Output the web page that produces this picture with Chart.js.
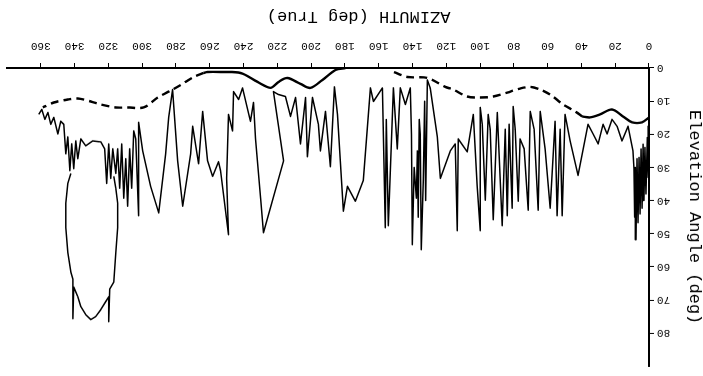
<!DOCTYPE html>
<html>
<head>
<meta charset="utf-8">
<script src="https://cdn.jsdelivr.net/npm/chart.js@4.4.1/dist/chart.umd.min.js"></script>
<style>
  html, body { margin: 0; padding: 0; background: #fff; overflow: hidden; }
  #wrap { width: 703px; height: 376px; transform: rotate(180deg); transform-origin: 50% 50%; }
</style>
</head>
<body>
<div id="wrap"><canvas id="c" width="703" height="376"></canvas></div>
<script>
// Tick labels
const azTicks = [0,20,40,60,80,100,120,140,160,180,200,220,240,260,280,300,320,340,360];
const elTicks = [0,10,20,30,40,50,60,70,80];

// Thin obstruction profile (azimuth deg, elevation deg), traced in drawing order
const profileAz = [0,0.5,1.0,1.8,2.4,3.0,3.5,4.1,4.7,5.3,5.9,6.5,7.1,7.7,8.1,8.5,8.9,9.5,12.4,16.0,18.9,21.9,24.8,27.2,30.1,33.1,36.1,42.0,46.7,49.7,51.4,52.6,54.4,55.6,58.5,61.5,64.4,65.6,68.0,70.3,71.5,73.9,76.3,77.4,79.2,80.4,81.0,82.8,83.9,85.1,86.9,89.8,92.2,94.0,95.2,96.9,98.7,99.9,99.9,101.7,104.0,107.6,112.9,113.5,114.7,117.6,123.5,125.3,129.5,131.2,132.2,132.8,133.6,134.8,135.4,136.0,136.6,137.1,137.7,139.0,140.1,140.6,141.3,144.2,147.2,149.0,151.3,154.3,155.5,156.1,157.8,163.1,164.9,169.1,173.8,178.5,180.9,184.4,186.2,188.6,191.5,194.5,195.7,199.2,202.2,203.3,206.3,209.2,212.2,215.2,219.3,222.3,216.3,228.2,229.9,232.9,234.1,235.9,240.6,242.9,245.9,246.5,248.9,250.0,248.9,253.6,254.8,258.3,261.3,264.2,266.6,270.1,271.3,276.0,279.0,282.0,284.3,286.1,290.2,295.0,299.7,302.1,302.1,303.8,305.0,306.2,307.4,308.6,309.7,310.9,312.1,313.3,314.5,315.6,317.4,318.6,319.8,321.0,322.2,324.5,329.2,333.4,336.3,338.1,339.3,340.5,341.7,342.8,344.0,345.2,346.4,348.2,349.9,352.3,354.1,355.8,357.6,359.4,361.2];
const profileEl = [17.6,33.0,21.0,38.0,24.0,40.0,23.0,42.3,24.4,44.0,27.0,46.7,27.4,51.8,30.0,45.0,30.4,25.0,17.6,22.0,17.6,15.5,19.9,17.0,22.9,19.9,17.0,32.4,22.0,14.0,44.6,18.5,44.6,16.1,42.3,24.4,13.1,42.9,18.5,13.1,42.9,24.4,21.4,40.2,18.5,11.6,42.3,17.0,44.6,18.5,47.6,13.4,45.8,18.5,14.0,39.9,17.0,11.9,49.1,35.7,14.0,25.3,21.4,49.1,22.9,25.0,33.3,20.8,6.0,3.6,40.0,10.0,33.9,54.8,20.0,15.5,45.0,25.0,39.3,30.0,53.3,20.0,6.0,11.0,6.0,24.4,6.0,47.6,15.5,48.2,6.0,10.1,6.0,33.9,40.2,35.7,43.2,14.0,5.7,29.8,13.1,25.0,17.0,8.9,26.8,8.9,22.9,8.9,14.6,8.6,8.0,7.1,28.0,49.7,39.3,21.4,10.4,16.1,6.0,9.5,7.1,19.0,14.0,33.3,50.3,31.0,28.3,32.7,28.0,13.1,28.9,17.6,25.9,41.7,28.0,6.5,14.9,25.9,43.7,35.7,25.0,16.4,44.6,21.4,19.0,36.3,24.4,41.7,27.4,39.3,22.9,36.3,24.4,31.8,24.4,33.3,22.9,34.8,24.4,22.3,22.0,23.5,21.4,27.4,22.0,30.4,22.9,31.0,20.8,25.9,17.0,16.1,19.9,14.9,17.0,13.4,15.5,12.5,14.0];

// Closed loop near 315-346 deg
const loopAz = [342.2,344.0,345.2,345.2,344.0,342.2,341.0,341.0,340.5,338.1,336.3,333.4,330.4,327.5,324.5,321.6,319.8,319.8,319.2,316.8,315.6,314.5,314.5,315.6,316.8];
const loopEl = [31.8,34.8,40.8,48.2,55.7,61.6,63.7,75.6,66.1,69.0,72.0,74.4,75.9,75.0,72.9,70.5,69.0,76.5,66.7,64.6,55.7,48.2,40.8,36.3,32.7];

// Upper mask curve: solid and dashed parts
const maskSolidAAz = [0,4.1,10.0,15.4,21.9,29.0,34.9,39.6];
const maskSolidAEl = [14.9,16.4,16.4,14.6,12.5,14.0,14.9,14.6];
const maskDashBAz = [39.6,43.7,50.8,58.5,64.4,70.3,76.3,83.9,92.2,99.9,107.6,115.9,120.6,131.2,143.0,151.3];
const maskDashBEl = [14.6,13.1,11.0,8.0,6.5,5.7,6.2,7.4,8.6,8.9,8.6,6.5,5.7,3.0,2.7,1.2];
const maskSolidCAz = [179.7,185.6,193.3,200.4,206.3,214.0,219.3,224.0,231.7,241.8,253.6,261.3,263.6];
const maskSolidCEl = [0,0.6,3.6,6.0,4.8,3.0,4.2,6.0,4.2,1.5,1.2,1.2,1.5];
const maskDashDAz = [263.6,269.5,277.2,282.0,290.8,299.1,308.6,315.6,324.5,330.4,338.1,344.0,352.3,358.8];
const maskDashDEl = [1.5,2.7,5.1,6.5,8.9,11.9,11.9,11.9,11.0,10.1,9.2,9.5,10.4,11.9];

const pts = (a, e) => a.map((v, i) => ({ x: v, y: e[i] }));
const mono = 'Liberation Mono, DejaVu Sans Mono, monospace';

const thin = { showLine: true, borderColor: '#000', borderWidth: 1.5, pointRadius: 0, tension: 0, borderJoinStyle: 'round', fill: false };
const thick = { showLine: true, borderColor: '#000', borderWidth: 2.4, pointRadius: 0, tension: 0.3, fill: false };

new Chart(document.getElementById('c'), {
  type: 'scatter',
  data: {
    datasets: [
      Object.assign({ data: pts(profileAz, profileEl) }, thin),
      Object.assign({ data: pts(loopAz, loopEl) }, thin),
      Object.assign({ data: pts(maskSolidAAz, maskSolidAEl) }, thick),
      Object.assign({ data: pts(maskDashBAz, maskDashBEl), borderDash: [8, 5] }, thick),
      Object.assign({ data: pts(maskSolidCAz, maskSolidCEl) }, thick),
      Object.assign({ data: pts(maskDashDAz, maskDashDEl), borderDash: [8, 5] }, thick)
    ]
  },
  options: {
    responsive: false,
    animation: false,
    devicePixelRatio: 1,
    layout: { padding: { top: 6, right: 7, left: 0, bottom: 0 } },
    plugins: { legend: { display: false }, tooltip: { enabled: false } },
    scales: {
      x: {
        type: 'linear', min: 0, max: 380,
        afterBuildTicks: s => { s.ticks = azTicks.map(v => ({ value: v })); },
        afterFit: s => { s.height = 68; },
        ticks: { color: '#000', font: { family: mono, size: 11 }, padding: 10, maxRotation: 0, minRotation: 0, autoSkip: false },
        grid: { drawOnChartArea: false, drawTicks: true, tickLength: 5, color: '#000', lineWidth: 1 },
        border: { display: true, color: '#000', width: 2 },
        title: { display: true, text: 'AZIMUTH (deg True)      ', color: '#000', font: { family: mono, size: 17, lineHeight: 1 }, padding: { top: 0, bottom: 8 } }
      },
      y: {
        type: 'linear', min: 0, max: 90,
        afterBuildTicks: s => { s.ticks = elTicks.map(v => ({ value: v })); },
        afterFit: s => { s.width = 54; },
        ticks: { color: '#000', font: { family: mono, size: 11 }, padding: 3, autoSkip: false },
        grid: { drawOnChartArea: false, drawTicks: true, tickLength: 5, color: '#000', lineWidth: 1 },
        border: { display: true, color: '#000', width: 2 },
        title: { display: true, text: 'Elevation Angle (deg)', color: '#000', font: { family: mono, size: 17, lineHeight: 1 }, padding: { top: 0, bottom: 0 } }
      }
    }
  }
});
</script>
</body>
</html>
